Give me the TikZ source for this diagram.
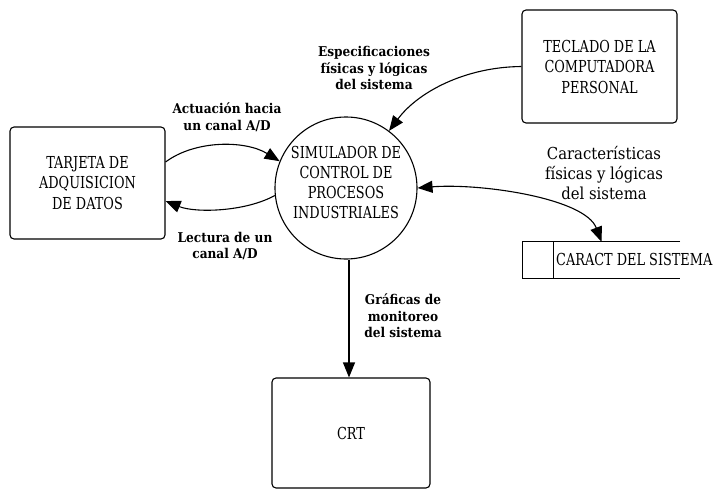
\documentclass[tikz,border=0pt]{standalone}
\usepackage{fontspec}
\setmainfont{DejaVu Serif}
\newfontfamily\boxfont[FakeStretch=0.78]{DejaVu Serif}
\newfontfamily\lblfont[FakeStretch=0.9]{DejaVu Serif}
\usetikzlibrary{arrows.meta}
\begin{document}
\begin{tikzpicture}[x=1pt,y=-1pt,
  proc/.style={draw, rounded corners=4pt, line width=1.1pt, align=center, inner sep=0,
    font=\boxfont\fontsize{16.5}{20.5}\selectfont},
  captext/.style={align=center, inner sep=0, font=\boxfont\fontsize{16.5}{20}\selectfont},
  tip/.tip={Triangle[length=15pt,width=12pt]},
  flow/.style={line width=1.1pt, -tip},
  lbl/.style={align=center, inner sep=0, font=\lblfont\bfseries\fontsize{13.5}{16.5}\selectfont},
  lbltwo/.style={align=center, inner sep=0, font=\lblfont\fontsize{16.5}{20}\selectfont}]
\useasboundingbox (0,0) rectangle (721,490);

% external entities
\node[proc, minimum width=155pt, minimum height=112pt] (tarjeta) at (87.5,183)
  {TARJETA DE\\ADQUISICION\\DE DATOS};
\node[proc, minimum width=155pt, minimum height=113pt] (teclado) at (599.5,66.5)
  {TECLADO DE LA\\COMPUTADORA\\PERSONAL};
\node[proc, minimum width=158pt, minimum height=110pt] (crt) at (351,433) {CRT};

% process
\node[draw, circle, line width=1.1pt, minimum size=142pt, inner sep=0] (sim) at (346,188) {};
\node[captext] (simtxt) at (346,182) {SIMULADOR DE\\CONTROL DE\\PROCESOS\\INDUSTRIALES};

% data store
\node[minimum width=157pt, minimum height=36pt, inner sep=0] (store) at (601.5,260) {};
\draw[line width=1.1pt] (store.north east) -- (store.north west) -- (store.south west) -- (store.south east);
\draw[line width=1.1pt] ([xshift=31pt]store.north west) -- ([xshift=31pt]store.south west);
\node[captext, anchor=west] (storetxt) at (556,259) {CARACT DEL SISTEMA};

% flows
\draw[flow] ([yshift=21pt]tarjeta.east) .. controls (195,140) and (245,140) .. (sim.158);
\draw[flow] (sim.186) .. controls (245,212) and (195,213) .. ([yshift=-18pt]tarjeta.east);
\draw[flow] (teclado.west) .. controls (465,67) and (418,92) .. (sim.53);
\draw[line width=1.1pt, tip-tip] (sim.east) .. controls (480,183) and (585,198) .. (store.north);
\draw[flow] ([xshift=3pt]sim.south) -- ([xshift=3pt]sim.south |- crt.north);

% labels
\node[lbl] (lact) at (227,117) {Actuación hacia\\un canal A/D};
\node[lbl] (llec) at (225,246) {Lectura de un\\canal A/D};
\node[lbl] (lesp) at (374,68) {Especificaciones\\físicas y lógicas\\del sistema};
\node[lbltwo] (lcar) at (604,173) {Características\\físicas y lógicas\\del sistema};
\node[lbl] (lgra) at (403,316) {Gráficas de\\monitoreo\\del sistema};
\end{tikzpicture}
\end{document}
